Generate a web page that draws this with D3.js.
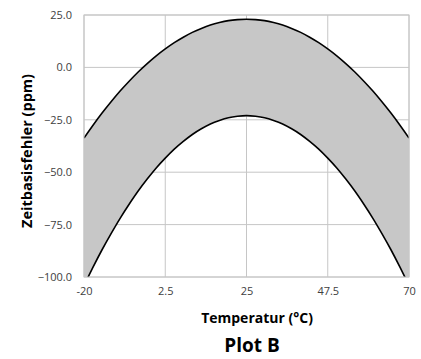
<!DOCTYPE html>
<html>
<head>
<meta charset="utf-8">
<script src="https://cdn.jsdelivr.net/npm/d3@7/dist/d3.min.js"></script>
<style>
  body { margin: 0; background: #fff; }
  .tick text { font-family: "Open Sans", sans-serif; font-size: 11px; fill: #404040; }
  .axis-title { font-family: "Open Sans", sans-serif; font-weight: bold; fill: #000; }
</style>
</head>
<body>
<div class="chart"></div>
<script>
// data
var temps = [-20, -17.5, -15, -12.5, -10, -7.5, -5, -2.5, 0, 2.5, 5, 7.5, 10, 12.5, 15, 17.5, 20, 22.5, 25,
             27.5, 30, 32.5, 35, 37.5, 40, 42.5, 45, 47.5, 50, 52.5, 55, 57.5, 60, 62.5, 65, 67.5, 70];
var upper = [-33.7, -27.6, -21.8, -16.4, -11.3, -6.6, -2.2, 1.8, 5.5, 8.8, 11.8, 14.4, 16.7, 18.6, 20.2, 21.4, 22.3, 22.8, 23.0,
             22.8, 22.3, 21.4, 20.2, 18.6, 16.7, 14.4, 11.8, 8.8, 5.5, 1.8, -2.2, -6.6, -11.3, -16.4, -21.8, -27.6, -33.7];
var lower = [-104, -95.3, -87, -79.3, -72, -65.3, -59, -53.3, -48, -43.3, -39, -35.3, -32, -29.3, -27, -25.3, -24, -23.3, -23,
             -23.3, -24, -25.3, -27, -29.3, -32, -35.3, -39, -43.3, -48, -53.3, -59, -65.3, -72, -79.3, -87, -95.3, -104];
var xTicks = [-20, 2.5, 25, 47.5, 70];
var yTicks = [-100, -75, -50, -25, 0, 25];

var svgWidth = 421;
var svgHeight = 359;
var margin = { top: 15, right: 12, bottom: 82, left: 84 };
var width = svgWidth - margin.left - margin.right;
var height = svgHeight - margin.top - margin.bottom;

var svg = d3.select('.chart')
  .append('svg')
    .attr('width', svgWidth)
    .attr('height', svgHeight);

var chart = svg.append('g')
    .attr('transform', 'translate(' + margin.left + ',' + margin.top + ')');

var x = d3.scaleLinear().domain([-20, 70]).range([0, width]);
var y = d3.scaleLinear().domain([-100, 25]).range([height, 0]);

// grid lines
chart.append('g')
  .selectAll('line')
  .data(yTicks)
  .enter().append('line')
    .attr('x1', 0).attr('x2', width)
    .attr('y1', function(d) { return y(d); })
    .attr('y2', function(d) { return y(d); })
    .attr('stroke', '#c6c6c6').attr('stroke-width', 1);

chart.append('g')
  .selectAll('line')
  .data(xTicks)
  .enter().append('line')
    .attr('y1', 0).attr('y2', height)
    .attr('x1', function(d) { return x(d); })
    .attr('x2', function(d) { return x(d); })
    .attr('stroke', '#c6c6c6').attr('stroke-width', 1);

// clip to plot area
svg.append('defs').append('clipPath').attr('id', 'plot-clip')
  .append('rect').attr('width', width).attr('height', height);

var points = temps.map(function(t, i) {
  return { t: t, hi: upper[i], lo: lower[i] };
});

var plot = chart.append('g').attr('clip-path', 'url(#plot-clip)');

var area = d3.area()
  .curve(d3.curveNatural)
  .x(function(d) { return x(d.t); })
  .y0(function(d) { return y(d.lo); })
  .y1(function(d) { return y(d.hi); });

plot.append('path')
  .datum(points)
  .attr('d', area)
  .attr('fill', '#c7c7c7');

var lineHi = d3.line().curve(d3.curveNatural)
  .x(function(d) { return x(d.t); })
  .y(function(d) { return y(d.hi); });
var lineLo = d3.line().curve(d3.curveNatural)
  .x(function(d) { return x(d.t); })
  .y(function(d) { return y(d.lo); });

plot.append('path').datum(points).attr('d', lineHi)
  .attr('fill', 'none').attr('stroke', '#000').attr('stroke-width', 1.6);
plot.append('path').datum(points).attr('d', lineLo)
  .attr('fill', 'none').attr('stroke', '#000').attr('stroke-width', 1.6);

// plot border
chart.append('rect')
  .attr('width', width).attr('height', height)
  .attr('fill', 'none').attr('stroke', '#c6c6c6');

// axes (labels only)
var bottomAxis = d3.axisBottom(x).tickValues(xTicks).tickSize(0).tickPadding(10)
  .tickFormat(function(d) { return String(d); });
var leftAxis = d3.axisLeft(y).tickValues(yTicks).tickSize(0).tickPadding(12)
  .tickFormat(d3.format('.1f'));

chart.append('g')
  .attr('transform', 'translate(0,' + height + ')')
  .call(bottomAxis)
  .call(function(g) { g.select('.domain').remove(); });

chart.append('g')
  .call(leftAxis)
  .call(function(g) { g.select('.domain').remove(); });

// titles
svg.append('text')
  .attr('class', 'axis-title')
  .attr('transform', 'translate(32,151) rotate(-90)')
  .attr('text-anchor', 'middle')
  .attr('font-size', '14.5px')
  .text('Zeitbasisfehler (ppm)');

svg.append('text')
  .attr('class', 'axis-title')
  .attr('x', 257).attr('y', 323)
  .attr('text-anchor', 'middle')
  .attr('font-size', '14px')
  .text('Temperatur (°C)');

svg.append('text')
  .attr('class', 'axis-title')
  .attr('x', 252).attr('y', 352)
  .attr('text-anchor', 'middle')
  .attr('font-size', '19px')
  .text('Plot B');
</script>
</body>
</html>
